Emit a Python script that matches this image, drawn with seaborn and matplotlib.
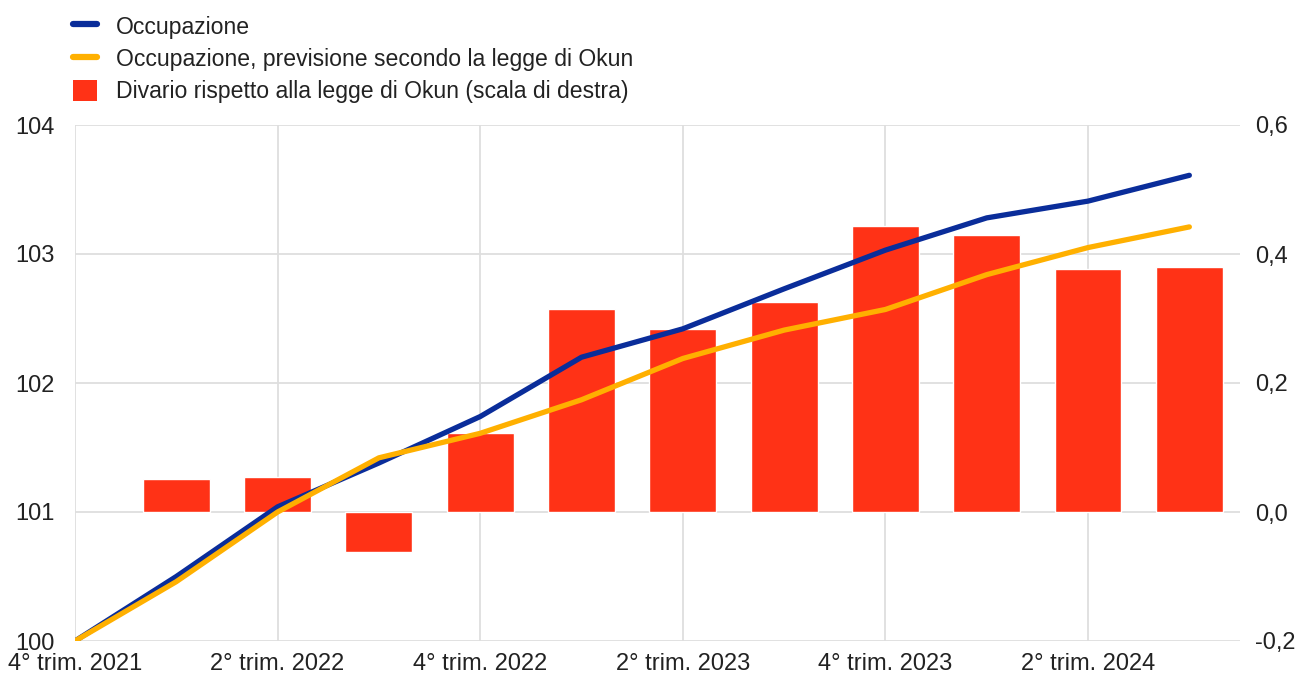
import numpy as np
import pandas as pd
import matplotlib
matplotlib.use('Agg')
import matplotlib.pyplot as plt
import seaborn as sns
from matplotlib.lines import Line2D
from matplotlib.patches import Patch

# dati (trimestri da 4° trim. 2021 a 3° trim. 2024)
trimestri = ['4° trim. 2021', '1° trim. 2022', '2° trim. 2022', '3° trim. 2022',
             '4° trim. 2022', '1° trim. 2023', '2° trim. 2023', '3° trim. 2023',
             '4° trim. 2023', '1° trim. 2024', '2° trim. 2024', '3° trim. 2024']
occupazione = [100.0, 100.50, 101.04, 101.38, 101.74, 102.20, 102.42, 102.73,
               103.03, 103.28, 103.41, 103.61]
previsione_okun = [100.0, 100.46, 101.00, 101.42, 101.61, 101.87, 102.19, 102.41,
                   102.57, 102.84, 103.05, 103.21]
divario = [0.0, 0.051, 0.054, -0.062, 0.122, 0.314, 0.283, 0.326,
           0.444, 0.430, 0.377, 0.380]

blu = '#0A2D9A'
giallo = '#FFB000'
rosso = '#FF3216'

df = pd.DataFrame({'pos': np.arange(len(trimestri)),
                   'occupazione': occupazione,
                   'previsione': previsione_okun,
                   'divario': divario})

sns.set_style('white')
plt.rcParams['font.family'] = ['Liberation Sans', 'DejaVu Sans']
fs = 17

fig = plt.figure(figsize=(13.04, 6.78), dpi=100)
ax_bar = fig.add_axes([75/1304, 37/678, (1240-75)/1304, (641-125)/678])
ax = ax_bar.twinx()

# barre (scala di destra) sul primo asse, così restano sotto le linee
barre = df[df['pos'] > 0]
sns.barplot(data=barre, x='pos', y='divario', native_scale=True, width=0.66,
            color=rosso, saturation=1, ax=ax_bar, zorder=2)
ax_bar.set_ylim(-0.2, 0.6)
ax_bar.set_yticks([-0.2, 0.0, 0.2, 0.4, 0.6])
ax_bar.set_yticklabels(['-0,2', '0,0', '0,2', '0,4', '0,6'])
ax_bar.yaxis.tick_right()
ax_bar.grid(True, color='#dedede', linewidth=1.3, zorder=0)
ax_bar.set_axisbelow(True)

# linee (scala di sinistra)
sns.lineplot(data=df, x='pos', y='occupazione', color=blu, linewidth=3.8, ax=ax,
             solid_capstyle='round')
sns.lineplot(data=df, x='pos', y='previsione', color=giallo, linewidth=3.8, ax=ax,
             solid_capstyle='round')
ax.set_ylim(100, 104)
ax.set_yticks([100, 101, 102, 103, 104])
ax.yaxis.tick_left()

for a in (ax, ax_bar):
    a.set_xlim(0, 11.5)
    a.set_xlabel('')
    a.set_ylabel('')
    for s in a.spines.values():
        s.set_visible(False)

ax_bar.set_xticks(range(0, 12, 2))
ax_bar.set_xticklabels([trimestri[i] for i in range(0, 12, 2)])
ax_bar.tick_params(axis='x', length=0, pad=9, labelsize=fs, colors='#222222')
ax_bar.tick_params(axis='y', length=0, pad=11, labelsize=fs, colors='#222222')
ax.tick_params(axis='y', length=0, pad=15, labelsize=fs, colors='#222222')
ax.tick_params(axis='x', bottom=False, labelbottom=False)

# legenda
handles = [Line2D([], [], color=blu, linewidth=4.5),
           Line2D([], [], color=giallo, linewidth=4.5),
           Patch(facecolor=rosso, edgecolor='none')]
labels = ['Occupazione',
          'Occupazione, previsione secondo la legge di Okun',
          'Divario rispetto alla legge di Okun (scala di destra)']
fig.legend(handles, labels, loc='upper left', bbox_to_anchor=(73/1304, 1 - 15/678),
           frameon=False, fontsize=16.6, handlelength=1.05, handleheight=1.05,
           handletextpad=0.8, labelspacing=0.38, borderpad=0, borderaxespad=0,
           labelcolor='#222222')

fig.savefig('out.png', dpi=100)
